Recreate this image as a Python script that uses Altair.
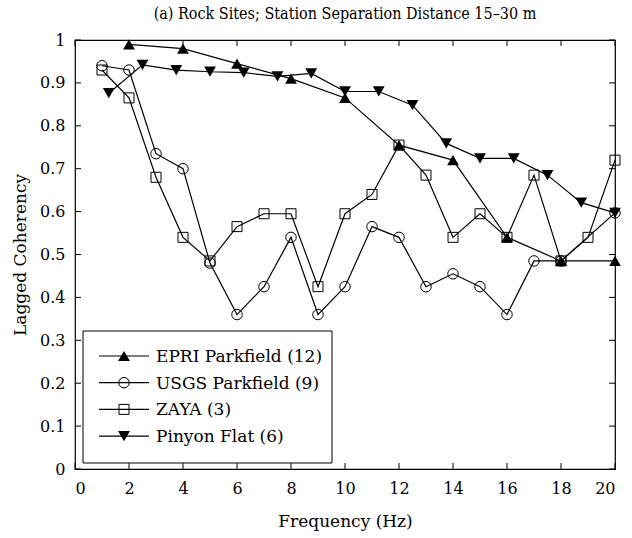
import altair as alt
import pandas as pd

# Lagged coherency versus frequency for four rock-site arrays
series_names = ["EPRI Parkfield (12)", "USGS Parkfield (9)", "ZAYA (3)", "Pinyon Flat (6)"]

freq_epri = [2, 4, 6, 8, 10, 12, 14, 16, 18, 20]
coh_epri = [0.99, 0.98, 0.945, 0.91, 0.865, 0.755, 0.72, 0.54, 0.485, 0.485]

freq_usgs = [1, 2, 3, 4, 5, 6, 7, 8, 9, 10, 11, 12, 13, 14, 15, 16, 17, 18, 20]
coh_usgs = [0.94, 0.93, 0.735, 0.70, 0.48, 0.36, 0.425, 0.54, 0.36, 0.425,
            0.565, 0.54, 0.425, 0.455, 0.425, 0.36, 0.485, 0.485, 0.597]

freq_zaya = [1, 2, 3, 4, 5, 6, 7, 8, 9, 10, 11, 12, 13, 14, 15, 16, 17, 18, 19, 20]
coh_zaya = [0.93, 0.865, 0.68, 0.54, 0.485, 0.565, 0.595, 0.595, 0.425, 0.595,
            0.64, 0.755, 0.685, 0.54, 0.595, 0.54, 0.685, 0.485, 0.54, 0.72]

freq_pinyon = [1.25, 2.5, 3.75, 5, 6.25, 7.5, 8.75, 10, 11.25, 12.5,
               13.75, 15, 16.25, 17.5, 18.75, 20]
coh_pinyon = [0.876, 0.942, 0.930, 0.926, 0.924, 0.915, 0.922, 0.88, 0.88, 0.848,
              0.759, 0.724, 0.724, 0.685, 0.621, 0.597]

x_ticks = [0, 2, 4, 6, 8, 10, 12, 14, 16, 18, 20]
y_ticks = [0, 0.1, 0.2, 0.3, 0.4, 0.5, 0.6, 0.7, 0.8, 0.9, 1.0]

freqs = [freq_epri, freq_usgs, freq_zaya, freq_pinyon]
cohs = [coh_epri, coh_usgs, coh_zaya, coh_pinyon]
markers = [("triangle-up", True, 140), ("circle", False, 110),
           ("square", False, 100), ("triangle-down", True, 140)]

FONT = "DejaVu Serif"
TITLE_FONT = "DejaVu Serif Condensed, DejaVu Serif"
W, H = 540, 429
TICK = 6

frames = []
for name, f, c in zip(series_names, freqs, cohs):
    frames.append(pd.DataFrame({"series": name, "freq": f, "coh": c}))
df = pd.concat(frames, ignore_index=True)

x_scale = alt.Scale(domain=[0, 20], nice=False, zero=False)
y_scale = alt.Scale(domain=[0, 1], nice=False, zero=False)

x_axis = alt.Axis(values=x_ticks, ticks=False, domain=False, grid=False,
                  labelFont=FONT, labelFontSize=16, labelPadding=11, labelColor="black",
                  title="Frequency (Hz)", titleFont=FONT, titleFontSize=17,
                  titleFontWeight="normal", titleColor="black", titlePadding=17)
y_axis = alt.Axis(values=y_ticks, format="~g", ticks=False, domain=False, grid=False,
                  labelFont=FONT, labelFontSize=16, labelPadding=10, labelColor="black",
                  title="Lagged Coherency", titleFont=FONT, titleFontSize=17,
                  titleFontWeight="normal", titleColor="black", titlePadding=10)

lines = alt.Chart(df).mark_line(color="black", strokeWidth=1.2).encode(
    x=alt.X("freq:Q", scale=x_scale, axis=x_axis),
    y=alt.Y("coh:Q", scale=y_scale, axis=y_axis),
    detail="series:N",
    order="freq:Q",
)

layers = [lines]
for name, (shape, filled, size) in zip(series_names, markers):
    pts = alt.Chart(df[df["series"] == name]).mark_point(
        shape=shape, filled=filled, size=size, color="black",
        strokeWidth=1, opacity=1,
    ).encode(x="freq:Q", y="coh:Q")
    layers.append(pts)

# inward tick marks on all four sides of the frame
xt = pd.DataFrame({"freq": x_ticks})
yt = pd.DataFrame({"coh": y_ticks})
tick_style = dict(color="black", strokeWidth=1)
layers += [
    alt.Chart(xt).mark_rule(**tick_style).encode(x="freq:Q", y=alt.value(H), y2=alt.value(H - TICK)),
    alt.Chart(xt).mark_rule(**tick_style).encode(x="freq:Q", y=alt.value(0), y2=alt.value(TICK)),
    alt.Chart(yt).mark_rule(**tick_style).encode(y="coh:Q", x=alt.value(0), x2=alt.value(TICK)),
    alt.Chart(yt).mark_rule(**tick_style).encode(y="coh:Q", x=alt.value(W), x2=alt.value(W - TICK)),
]

# legend box with line-and-symbol keys
box = pd.DataFrame({"k": [0]})
layers.append(
    alt.Chart(box).mark_rect(fill="white", stroke="black", strokeWidth=1).encode(
        x=alt.value(8), x2=alt.value(257), y=alt.value(291), y2=alt.value(423)
    )
)
for i, (name, (shape, filled, size)) in enumerate(zip(series_names, markers)):
    yy = 316 + i * 26.7
    row = pd.DataFrame({"label": [name]})
    layers.append(alt.Chart(row).mark_rule(color="black", strokeWidth=1.2).encode(
        x=alt.value(24), x2=alt.value(74), y=alt.value(yy)))
    layers.append(alt.Chart(row).mark_point(
        shape=shape, filled=filled, size=size, color="black", strokeWidth=1, opacity=1
    ).encode(x=alt.value(49), y=alt.value(yy)))
    layers.append(alt.Chart(row).mark_text(
        align="left", baseline="middle", font=FONT, fontSize=17, color="black"
    ).encode(x=alt.value(81), y=alt.value(yy + 1), text="label:N"))

chart = alt.layer(*layers).properties(
    width=W,
    height=H,
    title=alt.TitleParams(
        "(a) Rock Sites; Station Separation Distance 15\u201330 m",
        font=TITLE_FONT, fontSize=16, fontWeight="normal", color="black",
        anchor="middle", offset=10,
    ),
    autosize=alt.AutoSizeParams(type="none"),
    padding={"left": 75, "top": 40, "right": 17, "bottom": 69},
).configure_view(stroke="black", strokeWidth=1.2)

chart.save("out.html", embed_options={"renderer": "svg", "actions": False})
